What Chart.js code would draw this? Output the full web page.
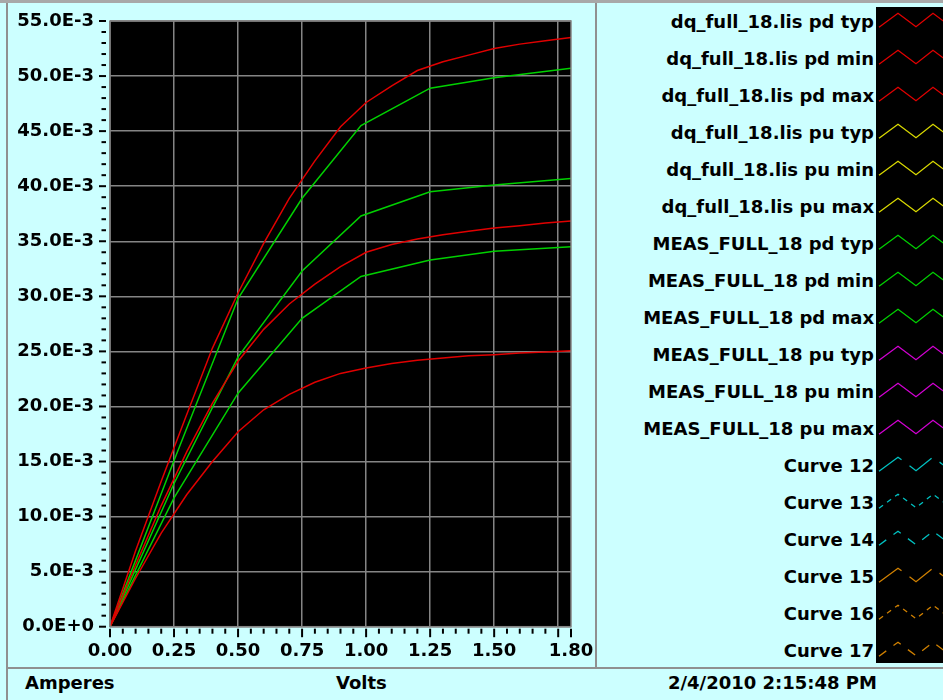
<!DOCTYPE html>
<html>
<head>
<meta charset="utf-8">
<script src="https://cdn.jsdelivr.net/npm/chart.js@4.4.1/dist/chart.umd.min.js"></script>
<style>
  body { margin: 0; width: 943px; height: 700px; background: #ccffff; position: relative; overflow: hidden;
         font-family: "DejaVu Sans", sans-serif; font-weight: bold; font-size: 18px; color: #000; }
  .bar { position: absolute; background: #909090; }
  #plot { position: absolute; left: 0; top: 0; }
  #legendBox { position: absolute; left: 876px; top: 7px; width: 67px; height: 656px; background: #000; }
  #legendBox svg { position: absolute; left: 0; top: 0; }
  .lgText { position: absolute; right: 69px; height: 22px; line-height: 22px; white-space: nowrap; }
  .foot { position: absolute; top: 672px; height: 22px; line-height: 22px; white-space: nowrap; }
</style>
</head>
<body>
<div class="bar" style="left:0;top:0;width:943px;height:3px;background:#a8a8a8"></div>
<div class="bar" style="left:6px;top:3px;width:2px;height:697px"></div>
<div class="bar" style="left:595px;top:3px;width:2px;height:665px"></div>
<div class="bar" style="left:7px;top:667px;width:936px;height:2px"></div>
<canvas id="plot" width="595" height="667"></canvas>
<div id="legendBox"></div>
<div id="legendText"></div>
<div class="foot" style="left:25px">Amperes</div>
<div class="foot" style="left:336px">Volts</div>
<div class="foot" style="left:668px">2/4/2010 2:15:48 PM</div>
<script>
// simulated curves (dq_full_18.lis), current in mA
const voltsSim = [0, 0.1, 0.2, 0.3, 0.4, 0.5, 0.6, 0.7, 0.8, 0.9, 1.0, 1.1, 1.2, 1.3, 1.4, 1.5, 1.6, 1.7, 1.8];
const dqPdTyp = [0, 5.6, 11.0, 15.9, 20.3, 24.1, 27.0, 29.3, 31.1, 32.7, 34.0, 34.7, 35.2, 35.6, 35.9, 36.2, 36.4, 36.65, 36.85];
const dqPdMin = [0, 4.4, 8.5, 12.0, 15.0, 17.7, 19.7, 21.1, 22.2, 23.0, 23.5, 23.9, 24.2, 24.4, 24.6, 24.7, 24.85, 24.95, 25.05];
const dqPdMax = [0, 6.9, 13.2, 19.3, 25.3, 30.3, 34.8, 38.9, 42.3, 45.4, 47.6, 49.1, 50.5, 51.3, 51.9, 52.5, 52.9, 53.2, 53.5];

// measured curves (MEAS_FULL_18), current in mA
const voltsMeas = [0, 0.25, 0.5, 0.75, 0.98, 1.25, 1.5, 1.8];
const measPdTyp = [0, 13.0, 24.5, 32.3, 37.3, 39.5, 40.1, 40.7];
const measPdMin = [0, 11.7, 21.2, 28.0, 31.8, 33.3, 34.1, 34.5];
const measPdMax = [0, 15.1, 29.8, 38.9, 45.5, 48.9, 49.85, 50.7];

const seriesNames = [
  "dq_full_18.lis pd typ", "dq_full_18.lis pd min", "dq_full_18.lis pd max",
  "dq_full_18.lis pu typ", "dq_full_18.lis pu min", "dq_full_18.lis pu max",
  "MEAS_FULL_18 pd typ", "MEAS_FULL_18 pd min", "MEAS_FULL_18 pd max",
  "MEAS_FULL_18 pu typ", "MEAS_FULL_18 pu min", "MEAS_FULL_18 pu max",
  "Curve 12", "Curve 13", "Curve 14", "Curve 15", "Curve 16", "Curve 17"
];

const xTickLabels = ["0.00", "0.25", "0.50", "0.75", "1.00", "1.25", "1.50", "1.80"];

const red = "#e00000", yellow = "#d8d800", green = "#00d000", magenta = "#d000d0", cyan = "#00c0c0", orange = "#d08000";
const colors = [red, red, red, yellow, yellow, yellow, green, green, green, magenta, magenta, magenta,
                cyan, cyan, cyan, orange, orange, orange];
const dashes = [[], [], [], [], [], [], [], [], [], [], [], [], [28, 10], [5, 5], [9, 9], [28, 10], [5, 5], [9, 9]];

function pts(xs, ys) {
  return xs.map((x, i) => ({ x: x, y: ys[i] }));
}

const seriesData = [
  pts(voltsSim, dqPdTyp), pts(voltsSim, dqPdMin), pts(voltsSim, dqPdMax),
  [], [], [],
  pts(voltsMeas, measPdTyp), pts(voltsMeas, measPdMin), pts(voltsMeas, measPdMax),
  [], [], [],
  [], [], [], [], [], []
];

const datasets = seriesNames.map((name, i) => ({
  label: name,
  data: seriesData[i],
  borderColor: colors[i],
  borderWidth: 1.5,
  borderDash: dashes[i],
  pointRadius: 0,
  tension: 0,
  fill: false
}));

function near(v, step) {
  return Math.abs(v / step - Math.round(v / step)) < 1e-6;
}

const tickFont = { family: "DejaVu Sans", size: 18, weight: "bold" };

// black plot area, frame and the long/short tick marks
const framePlugin = {
  id: "frame",
  beforeDraw(c) {
    const a = c.chartArea, g = c.ctx;
    g.save();
    g.fillStyle = "#000";
    g.fillRect(a.left, a.top, a.right - a.left, a.bottom - a.top);
    g.restore();
  },
  afterDraw(c) {
    const a = c.chartArea, g = c.ctx;
    g.save();
    g.strokeStyle = "#858585";
    g.lineWidth = 1.5;
    g.strokeRect(a.left, a.top, a.right - a.left, a.bottom - a.top);
    g.strokeStyle = "#000";
    g.lineWidth = 2;
    c.scales.y.ticks.forEach(t => {
      const py = c.scales.y.getPixelForValue(t.value);
      const len = near(t.value, 5) ? 7 : 4.5;
      g.beginPath();
      g.moveTo(a.left - 4 - len, py);
      g.lineTo(a.left - 4, py);
      g.stroke();
    });
    c.scales.x.ticks.forEach(t => {
      const px = c.scales.x.getPixelForValue(t.value);
      const len = (near(t.value, 0.25) || near(t.value, 1.8)) ? 8.5 : 5;
      g.beginPath();
      g.moveTo(px, a.bottom + 2);
      g.lineTo(px, a.bottom + 2 + len);
      g.stroke();
    });
    g.restore();
  }
};

const chart = new Chart(document.getElementById("plot"), {
  type: "line",
  data: { datasets: datasets },
  options: {
    responsive: false,
    animation: false,
    layout: { padding: { left: 0, top: 21, right: 24, bottom: 0 } },
    plugins: { legend: { display: false }, tooltip: { enabled: false } },
    scales: {
      x: {
        type: "linear", min: 0, max: 1.8,
        ticks: {
          stepSize: 0.05, autoSkip: false, maxRotation: 0, minRotation: 0,
          color: "#000", font: tickFont, padding: 14,
          callback: v => {
            const lbl = xTickLabels.find(s => Math.abs(parseFloat(s) - v) < 1e-6);
            return lbl || "";
          }
        },
        grid: { drawTicks: false, lineWidth: 1.5, color: ctx => near(ctx.tick.value, 0.25) ? "#858585" : "rgba(0,0,0,0)" },
        border: { display: false },
        afterFit: s => { s.height = 40.3; s.paddingLeft = 0; s.paddingRight = 0; }
      },
      y: {
        type: "linear", min: 0, max: 55,
        ticks: {
          stepSize: 1, autoSkip: false, color: "#000", font: tickFont, padding: 16,
          callback: v => near(v, 5) ? (v === 0 ? "0.0E+0" : v.toFixed(1) + "E-3") : ""
        },
        grid: { drawTicks: false, lineWidth: 1.5, color: ctx => near(ctx.tick.value, 5) ? "#858585" : "rgba(0,0,0,0)" },
        border: { display: false },
        afterFit: s => { s.width = 110; s.paddingTop = 0; s.paddingBottom = 0; }
      }
    }
  },
  plugins: [framePlugin]
});

// legend built from the chart's datasets
const svgNS = "http://www.w3.org/2000/svg";
const box = document.getElementById("legendBox");
const svg = document.createElementNS(svgNS, "svg");
svg.setAttribute("width", 67);
svg.setAttribute("height", 656);
box.appendChild(svg);
const textHolder = document.getElementById("legendText");
chart.data.datasets.forEach((ds, i) => {
  const c = 21.7 + 37 * i;
  const t = document.createElement("div");
  t.className = "lgText";
  t.style.top = (c - 11) + "px";
  t.textContent = ds.label;
  textHolder.appendChild(t);
  const cy = c - 7;
  const line = document.createElementNS(svgNS, "polyline");
  line.setAttribute("points", [[3, cy + 5.5], [22, cy - 8.5], [40, cy + 5], [57, cy - 8.5], [75, cy + 5]].map(p => p.join(",")).join(" "));
  line.setAttribute("fill", "none");
  line.setAttribute("stroke", ds.borderColor);
  line.setAttribute("stroke-width", 1.3);
  if (ds.borderDash.length) line.setAttribute("stroke-dasharray", ds.borderDash.join(" "));
  svg.appendChild(line);
});
</script>
</body>
</html>
